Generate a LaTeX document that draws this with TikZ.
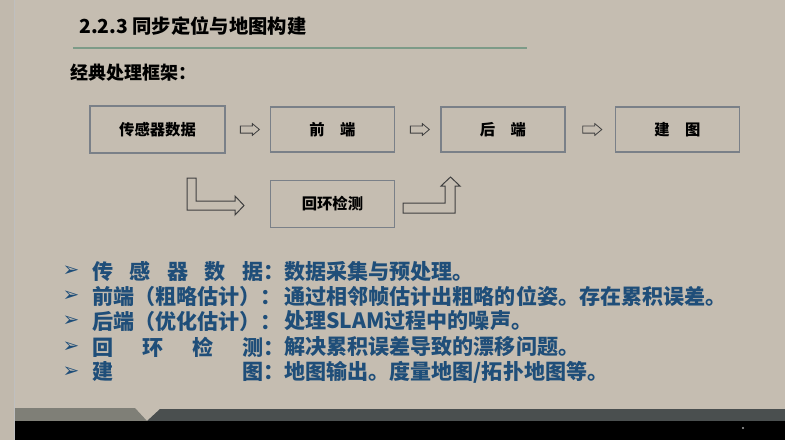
\documentclass[tikz,border=0pt]{standalone}
\usepackage{fontspec}
\setmainfont{Noto Sans CJK SC}
\newfontfamily\symfont{DejaVu Sans}
\usepackage{tikz}
\usetikzlibrary{arrows.meta,positioning,shapes.arrows,calc}
\definecolor{slideBg}{HTML}{C5BDB1}
\definecolor{stripBg}{HTML}{C1B9AD}
\definecolor{ruleGreen}{HTML}{7D9B88}
\definecolor{boxGray}{HTML}{7A8088}
\definecolor{textBlue}{HTML}{1F4E79}
\definecolor{bandOlive}{HTML}{7F7F77}
\definecolor{bandDark}{HTML}{4A4F4F}

\begin{document}
\begin{tikzpicture}[
  x=0.75pt, y=-0.75pt,
  node distance=33.75pt,
  box/.style={rectangle, draw=boxGray, line width=1.1pt, fill=slideBg, minimum width=93pt, minimum height=33.75pt, inner sep=0pt, font=\bfseries\fontsize{11.5}{13}\selectfont},
  hollow/.style={single arrow, draw=black!75, line width=0.6pt, fill=slideBg, minimum height=14.25pt, inner xsep=0pt, inner ysep=2.4pt, single arrow head extend=1.7pt, single arrow tip angle=80},
  bendarrow/.style={draw=black!75, line width=0.75pt, fill=slideBg},
  item/.style={anchor=west, inner sep=0pt, text=textBlue, font=\bfseries\fontsize{15.8}{18}\selectfont},
  bullet/.style={inner sep=0pt, text=textBlue, font=\symfont\fontsize{15}{16}\selectfont}
]
% slide background
\useasboundingbox (0,0) rectangle (785,440);
\fill[slideBg] (0,0) rectangle (785,440);
\fill[stripBg] (0,0) rectangle (14,440);
\draw[black!25, line width=0.75pt] (14.5,0) -- (14.5,440);

% heading
\node[anchor=west, inner sep=0pt, font=\bfseries\fontsize{14.5}{16}\selectfont] (title) at (79,26) {2.2.3 同步定位与地图构建};
\draw[ruleGreen, line width=1.4pt] (73,48) -- (527,48);
\node[anchor=west, inner sep=0pt, font=\bfseries\fontsize{13.5}{15}\selectfont] (subtitle) at (70,73) {经典处理框架：};

% pipeline
\node[box, minimum width=101.25pt, minimum height=35.25pt] (sensor) at (157.5,129.5) {传感器数据};
\node[box, right=33pt of sensor] (front) {前\hspace{1em}端};
\node[box, right=of front] (back) {后\hspace{1em}端};
\node[box, right=36.75pt of back] (map) {建\hspace{1em}图};
\node[box, below=20.25pt of front, minimum height=35.25pt] (loop) {回环检测};

\node[hollow] (a1) at ($(sensor.east)!0.5!(front.west)$) {};
\node[hollow] (a2) at ($(front.east)!0.5!(back.west)$) {};
\node[hollow] (a3) at ($(back.east)!0.5!(map.west)$) {};

% bent arrows to and from loop closure
\draw[bendarrow] (187,178) -- (196,178) -- (196,201) -- (235,201) -- (235,196) -- (244,205.5)
  -- (235,215) -- (235,210) -- (187,210) -- cycle;
\draw[bendarrow] (403,203) -- (445,203) -- (445,186) -- (441,186) -- (450.5,177) -- (460,186)
  -- (455,186) -- (455,213) -- (403,213) -- cycle;

% notes
\node[bullet] (b1) at (71,271) {➢};
\node[bullet] (b2) at (71,296) {➢};
\node[bullet] (b3) at (71,321) {➢};
\node[bullet] (b4) at (71,347) {➢};
\node[bullet] (b5) at (71,372) {➢};
\node[item] (l1) at (92,271) {\makebox[128.25pt][s]{传\hfill 感\hfill 器\hfill 数\hfill 据}：};
\node[item] (l2) at (92,296) {前端（粗略估计）：};
\node[item] (l3) at (92,321) {后端（优化估计）：};
\node[item] (l4) at (92,347) {\makebox[128.25pt][s]{回\hfill 环\hfill 检\hfill 测}：};
\node[item] (l5) at (92,372) {\makebox[128.25pt][s]{建\hfill 图}：};
\node[item] (t1) at (284,271) {数据采集与预处理。};
\node[item] (t2) at (284,296) {通过相邻帧估计出粗略的位姿。存在累积误差。};
\node[item] (t3) at (284,321) {处理SLAM过程中的噪声。};
\node[item] (t4) at (284,347) {解决累积误差导致的漂移问题。};
\node[item] (t5) at (284,372) {地图输出。度量地图/拓扑地图等。};

% footer band
\fill[bandOlive] (15,408) -- (135,408) -- (147,421) -- (15,421) -- cycle;
\fill[bandDark] (147,421) -- (160,409) -- (785,409) -- (785,421) -- cycle;
\fill[black] (15,421) rectangle (785,440);
\fill[black!35] (743,428) circle (0.9pt);
\end{tikzpicture}
\end{document}
